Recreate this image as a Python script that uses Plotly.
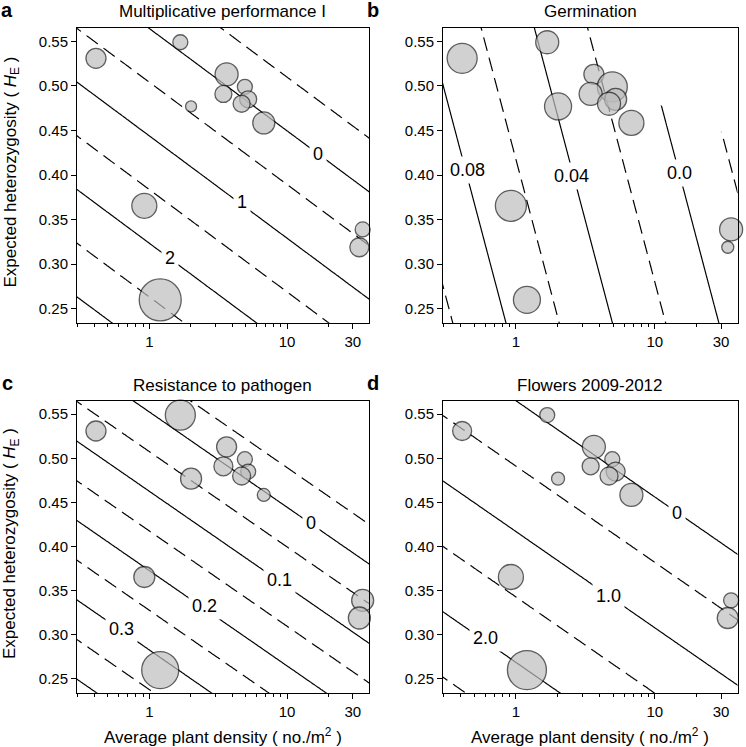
import numpy as np
import plotly.graph_objects as go

# ---------------- data ----------------
density = [0.41, 1.68, 3.64, 4.94, 3.45, 5.22, 4.68, 2.01, 6.78, 0.92, 35.4, 33.5, 1.20]
heterozygosity = [0.531, 0.549, 0.513, 0.499, 0.491, 0.485, 0.480, 0.477, 0.4585, 0.3655, 0.339, 0.319, 0.260]

bubble_a = [20, 15, 23, 15, 17, 17, 17, 11, 22, 25, 15, 19, 42]
bubble_b = [30, 23, 20, 30, 23, 22, 23, 27, 25, 31, 23, 12, 27]
bubble_c = [20, 30, 20, 15, 19, 15, 18, 21, 13, 21, 22, 22, 37]
bubble_d = [19, 15, 23, 15, 17, 19, 18, 13, 23, 25, 15, 21, 39]

panel_titles = ["Multiplicative performance I", "Germination",
                "Resistance to pathogen", "Flowers 2009-2012"]
panel_letters = ["a", "b", "c", "d"]

# fitted response surface  z = k0 + k_logx*log10(density) + k_he*He
surface_a = (4.685, -0.953, -8.3)
surface_b = (0.097, -0.0522, -0.0886)
surface_c = (0.6145, -0.1201, -1.112)
surface_d = (3.812, -0.7359, -6.743)

# contour levels (start, end, step): solid and dashed
solid_a, dashed_a = (0, 3, 1), (-0.5, 2.5, 1)
solid_b, dashed_b = (0.0, 0.08, 0.04), (-0.02, 0.10, 0.04)
solid_c, dashed_c = (0.0, 0.4, 0.1), (-0.05, 0.35, 0.1)
solid_d, dashed_d = (0, 2, 1), (0.5, 2.5, 1)

# contour labels: (text, density, He)
labels_a = [("0", 16.75, 0.4239), ("1", 4.68, 0.3693), ("2", 1.42, 0.3072)]
labels_b = [("0.08", 0.447, 0.4055), ("0.04", 2.50, 0.399), ("0.0", 15.0, 0.4021)]
labels_c = [("0", 15.0, 0.4264), ("0.1", 8.75, 0.3619), ("0.2", 2.50, 0.3327), ("0.3", 0.624, 0.3065)]
labels_d = [("0", 14.5, 0.4386), ("1.0", 4.66, 0.3435), ("2.0", 0.601, 0.2964)]

# region of panel b outside the fitted surface (left blank)
mask_b_density = [5.5, 10.8, 30.9, 60, 60]
mask_b_he = [0.60, 0.479, 0.4478, 0.43, 0.60]

x_ticks = [1, 10, 30]
x_minor = [0.3, 0.4, 0.5, 0.6, 0.7, 0.8, 0.9, 2, 3, 4, 5, 6, 7, 8, 9, 20]
y_ticks = [0.25, 0.30, 0.35, 0.40, 0.45, 0.50, 0.55]

# ---------------- figure ----------------
FONT = "Liberation Sans, Arial, sans-serif"
W, H = 746, 747
xdom = {"L": [77 / W, 369 / W], "R": [443 / W, 737.5 / W]}
ydom = {"T": [1 - 323 / H, 1 - 28 / H], "B": [1 - 693 / H, 1 - 401 / H]}

panels = [
    ("a", "x", "y", "L", "T", surface_a, solid_a, dashed_a, labels_a, bubble_a),
    ("b", "x2", "y2", "R", "T", surface_b, solid_b, dashed_b, labels_b, bubble_b),
    ("c", "x3", "y3", "L", "B", surface_c, solid_c, dashed_c, labels_c, bubble_c),
    ("d", "x4", "y4", "R", "B", surface_d, solid_d, dashed_d, labels_d, bubble_d),
]

u_grid = np.linspace(-0.7, 1.8, 260)
y_grid = np.linspace(0.20, 0.60, 220)
U, Y = np.meshgrid(u_grid, y_grid)
x_grid = 10 ** u_grid

fig = go.Figure()
annotations = []
layout = {}

for i, (key, xa, ya, xc, yc, surf, sol, das, labs, sizes) in enumerate(panels):
    k0, ku, ky = surf
    Z = k0 + ku * U + ky * Y
    for lev, dash in ((sol, "solid"), (das, "14px,7px")):
        fig.add_trace(go.Contour(
            x=x_grid, y=y_grid, z=Z, xaxis=xa, yaxis=ya,
            autocontour=False,
            contours=dict(start=lev[0], end=lev[1] + lev[2] * 0.01, size=lev[2],
                          coloring="none", showlabels=False),
            line=dict(color="black", width=1.2, dash=dash),
            showscale=False, hoverinfo="skip",
        ))
    if key == "b":
        fig.add_trace(go.Scatter(
            x=mask_b_density, y=mask_b_he, xaxis=xa, yaxis=ya,
            fill="toself", fillcolor="white", mode="none",
            hoverinfo="skip", showlegend=False))
    fig.add_trace(go.Scatter(
        x=density, y=heterozygosity, xaxis=xa, yaxis=ya, mode="markers",
        marker=dict(size=sizes, color="#bebebe", line=dict(color="#1a1a1a", width=1.3)),
        cliponaxis=False, hoverinfo="skip", showlegend=False))
    for txt, xv, yv in labs:
        annotations.append(dict(
            x=np.log10(xv), y=yv, xref=xa, yref=ya, text=txt, showarrow=False,
            font=dict(family=FONT, size=18, color="black"),
            bgcolor="white", borderpad=3))

    axn = "" if i == 0 else str(i + 1)
    layout["xaxis" + axn] = dict(
        domain=xdom[xc], type="log", range=[-0.525, 1.595],
        tickvals=x_ticks, ticktext=[str(v) for v in x_ticks],
        ticks="outside", ticklen=5, tickwidth=1, tickcolor="black",
        minor=dict(tickmode="array", tickvals=x_minor, ticks="outside",
                   ticklen=3, tickwidth=1, tickcolor="black", showgrid=False),
        showline=True, linecolor="black", linewidth=1, mirror=True,
        showgrid=False, zeroline=False, anchor=ya,
        tickfont=dict(family=FONT, size=15, color="black"))
    layout["yaxis" + axn] = dict(
        domain=ydom[yc], range=[0.234, 0.565],
        tickvals=y_ticks, tickformat=".2f",
        ticks="outside", ticklen=5, tickwidth=1, tickcolor="black",
        showline=True, linecolor="black", linewidth=1, mirror=True,
        showgrid=False, zeroline=False, anchor=xa,
        tickfont=dict(family=FONT, size=15, color="black"))

    # titles and letters
    cx = (xdom[xc][0] + xdom[xc][1]) / 2
    top = ydom[yc][1]
    annotations.append(dict(
        x=cx, y=top + 16 / H, xref="paper", yref="paper", text=panel_titles[i],
        showarrow=False, font=dict(family=FONT, size=17, color="black"),
        xanchor="center", yanchor="middle"))
    annotations.append(dict(
        x=xdom[xc][0] - 70 / W, y=top + 18 / H, xref="paper", yref="paper",
        text="<b>%s</b>" % panel_letters[i], showarrow=False,
        font=dict(family=FONT, size=20, color="black"),
        xanchor="center", yanchor="middle"))

# axis titles
for yc in ("T", "B"):
    cy = (ydom[yc][0] + ydom[yc][1]) / 2 + 3 / H
    annotations.append(dict(
        x=11 / W, y=cy, xref="paper", yref="paper",
        text="Expected heterozygosity ( <i>H</i><sub>E</sub> )",
        textangle=-90, showarrow=False,
        font=dict(family=FONT, size=17, color="black"),
        xanchor="center", yanchor="middle"))
for xc in ("L", "R"):
    cx = (xdom[xc][0] + xdom[xc][1]) / 2
    annotations.append(dict(
        x=cx, y=1 - 736 / H, xref="paper", yref="paper",
        text="Average plant density ( no./m<sup>2</sup> )", showarrow=False,
        font=dict(family=FONT, size=17, color="black"),
        xanchor="center", yanchor="middle"))

fig.update_layout(
    width=W, height=H, margin=dict(l=0, r=0, t=0, b=0),
    paper_bgcolor="white", plot_bgcolor="white", showlegend=False,
    annotations=annotations, **layout)

fig.write_html(
    "out.html",
    config={"displayModeBar": False},
    post_script="document.body.style.margin='0';document.body.style.overflow='hidden';")
